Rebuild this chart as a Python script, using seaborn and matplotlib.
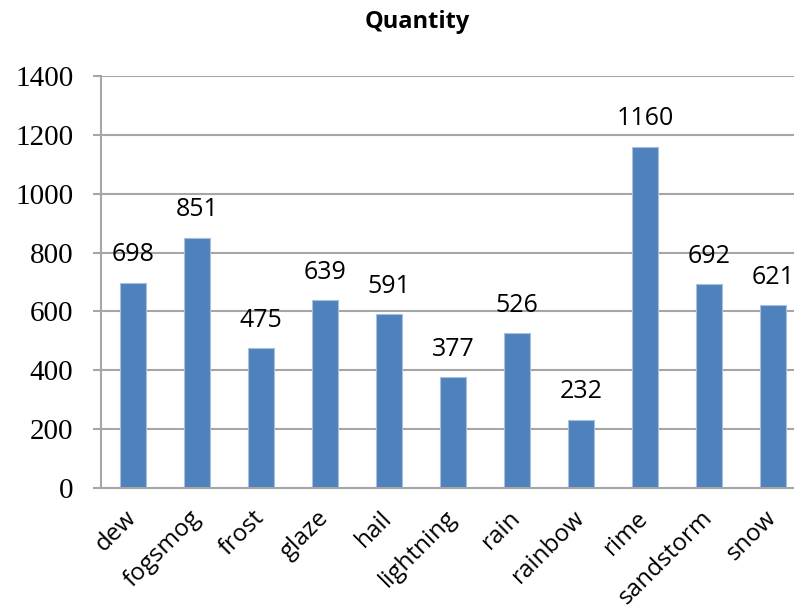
import matplotlib
matplotlib.use('Agg')
import matplotlib.pyplot as plt
import seaborn as sns
import pandas as pd
import numpy as np

# chart data
categories = ['dew', 'fogsmog', 'frost', 'glaze', 'hail', 'lightning',
              'rain', 'rainbow', 'rime', 'sandstorm', 'snow']
quantity = [698, 851, 475, 639, 591, 377, 526, 232, 1160, 692, 621]
y_ticks = [0, 200, 400, 600, 800, 1000, 1200, 1400]

df = pd.DataFrame({'weather': categories, 'quantity': quantity})

sns.set_style('white')
plt.rcParams['font.family'] = ['Open Sans', 'DejaVu Sans']
plt.rcParams['text.color'] = 'black'
plt.rcParams['xtick.labelcolor'] = 'black'
plt.rcParams['ytick.labelcolor'] = 'black'

grid_col = '#A6A6A6'

fig = plt.figure(figsize=(7.94, 6.12), dpi=100)
# plot area runs off the right edge, like the original export
ax = fig.add_axes([101/794, 1 - 488/612, 704/794, 412/612])

sns.barplot(data=df, x='weather', y='quantity', color='#4F81BD', saturation=1,
            width=0.395, edgecolor='#A7BFDE', linewidth=0.8, errorbar=None, ax=ax)

ax.set_axisbelow(True)
ax.yaxis.grid(True, color=grid_col, lw=1.5)
ax.set_ylim(0, 1400)
ax.set_xlim(-0.5, 10.5)
ax.set_yticks(y_ticks)
ax.set_yticklabels([str(t) for t in y_ticks], fontfamily='Liberation Serif', fontsize=21)

# boundary ticks (major, no labels) + category labels (minor, no tick)
ax.set_xticks(np.arange(-0.5, 11, 1))
ax.set_xticklabels([])
ax.set_xticks(range(len(categories)), minor=True)
ax.set_xticklabels(categories, minor=True, rotation=45, ha='right', va='center',
                   rotation_mode='anchor', fontsize=17.5)
ax.tick_params(axis='x', which='major', length=6.5, width=1.5, color=grid_col, direction='out')
ax.tick_params(axis='x', which='minor', length=0, pad=19)
ax.tick_params(axis='y', length=6, width=1.5, color=grid_col, pad=14, left=True)

for s in ['top', 'right']:
    ax.spines[s].set_visible(False)
for s in ['left', 'bottom']:
    ax.spines[s].set_color(grid_col)
    ax.spines[s].set_linewidth(1.5)

ax.set_xlabel('')
ax.set_ylabel('')

ax.bar_label(ax.containers[0], padding=11, fontsize=18, color='black')

fig.text(417/794, 1 - 27.5/612, 'Quantity', ha='center', va='baseline',
         fontsize=17, fontweight='bold', color='black')

fig.savefig('out.png', dpi=100)
